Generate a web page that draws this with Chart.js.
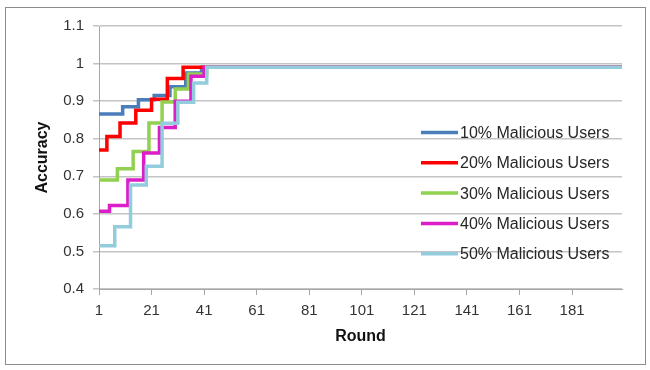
<!DOCTYPE html>
<html lang="en">
<head>
  <meta charset="UTF-8">
  <title>Accuracy per Round</title>
  <script src="https://cdn.jsdelivr.net/npm/chart.js"></script>
  <style>
    body {
      margin: 0;
      background: #fff;
    }
    #wrap {
      position: relative;
      width: 650px;
      height: 370px;
    }
    #wrap canvas {
      position: absolute;
      left: 0;
      top: 0;
    }
    .frame {
      position: absolute;
      left: 5px;
      top: 7px;
      width: 639px;
      height: 356px;
      border: 1px solid #8c8c8c;
      pointer-events: none;
    }
  </style>
</head>
<body>

  <div id="wrap">
    <canvas id="accChart" width="650" height="370"></canvas>
    <div class="frame"></div>
  </div>

  <script>
    // series names, in legend order
    const seriesNames = ["10% Malicious Users", "20% Malicious Users", "30% Malicious Users",
                         "40% Malicious Users", "50% Malicious Users"];

    // rounds where each series steps to a new value, and the value from that round on
    const rounds10 = [1, 10, 16, 22, 28, 34, 40, 200];
    const acc10    = [0.866, 0.885, 0.904, 0.915, 0.938, 0.975, 0.99, 0.99];

    const rounds20 = [1, 4, 9, 15, 21, 27, 33, 200];
    const acc20    = [0.77, 0.806, 0.842, 0.876, 0.905, 0.96, 0.99, 0.99];

    const rounds30 = [1, 8, 14, 20, 25, 30, 35, 42, 200];
    const acc30    = [0.69, 0.72, 0.766, 0.842, 0.898, 0.932, 0.972, 0.99, 0.99];

    const rounds40 = [1, 5, 12, 18, 24, 30, 36, 41, 200];
    const acc40    = [0.607, 0.622, 0.69, 0.762, 0.83, 0.9, 0.966, 0.99, 0.99];

    const rounds50 = [1, 7, 13, 19, 25, 31, 37, 42, 200];
    const acc50    = [0.515, 0.566, 0.677, 0.727, 0.841, 0.897, 0.948, 0.99, 0.99];

    // labelled rounds on the x axis
    const xTicks = [1, 21, 41, 61, 81, 101, 121, 141, 161, 181];

    const allRounds = [rounds10, rounds20, rounds30, rounds40, rounds50];
    const allAcc = [acc10, acc20, acc30, acc40, acc50];
    const colors = ["#4a7ebb", "#ff0000", "#92d050", "#dc1ec8", "#93cddd"];

    const tickFont = { family: "'Liberation Sans', Arial, sans-serif", size: 15 };
    const titleFont = { family: "'Liberation Sans', Arial, sans-serif", size: 16, weight: "bold" };

    // legend drawn inside the plot, on the right
    const insideLegend = {
      id: "insideLegend",
      afterDraw(chart, args, opts) {
        const ctx = chart.ctx;
        ctx.save();
        chart.data.datasets.forEach((ds, i) => {
          const y = opts.y0 + i * opts.gap;
          ctx.strokeStyle = ds.borderColor;
          ctx.lineWidth = 3.5;
          ctx.beginPath();
          ctx.moveTo(opts.x0, y);
          ctx.lineTo(opts.x0 + opts.len, y);
          ctx.stroke();
          ctx.fillStyle = "#262626";
          ctx.font = opts.font;
          ctx.textBaseline = "middle";
          ctx.fillText(ds.label, opts.x0 + opts.len + 2, y + 1);
        });
        ctx.restore();
      }
    };

    const datasets = seriesNames.map((name, i) => ({
      label: name,
      data: allRounds[i].map((r, j) => ({ x: r, y: allAcc[i][j] })),
      borderColor: colors[i],
      backgroundColor: colors[i],
      borderWidth: 3.5,
      pointRadius: 0,
      stepped: true,
      fill: false,
      order: seriesNames.length - i
    }));

    new Chart(document.getElementById("accChart"), {
      type: "line",
      data: { datasets: datasets },
      options: {
        responsive: false,
        animation: false,
        devicePixelRatio: 1,
        layout: { padding: { top: 26, right: 28, left: 0, bottom: 0 } },
        plugins: {
          legend: { display: false },
          tooltip: { enabled: false },
          insideLegend: {
            x0: 421, y0: 132.5, gap: 30.3, len: 37,
            font: "16px 'Liberation Sans', Arial, sans-serif"
          }
        },
        scales: {
          x: {
            type: "linear",
            min: 1,
            max: 200,
            afterBuildTicks: scale => { scale.ticks = xTicks.map(v => ({ value: v })); },
            afterFit: scale => { scale.height = 81; },
            ticks: { font: tickFont, color: "#333", padding: 7, maxRotation: 0 },
            grid: { drawOnChartArea: false, tickLength: 6, color: "#a6a6a6" },
            border: { color: "#a6a6a6" },
            title: {
              display: true, text: "Round", font: titleFont, color: "#111",
              padding: { top: 0, bottom: 24 }
            }
          },
          y: {
            min: 0.4,
            max: 1.1,
            afterFit: scale => { scale.width = 99; },
            ticks: {
              stepSize: 0.1,
              font: tickFont,
              color: "#333",
              padding: 9,
              callback: v => String(+v.toFixed(1))
            },
            grid: { color: "#c4c4c4", lineWidth: 1.5, tickLength: 6 },
            border: { color: "#a6a6a6" },
            title: {
              display: true, text: "Accuracy", font: titleFont, color: "#111",
              padding: { top: 33, bottom: 0 }
            }
          }
        }
      },
      plugins: [insideLegend]
    });
  </script>

</body>
</html>
